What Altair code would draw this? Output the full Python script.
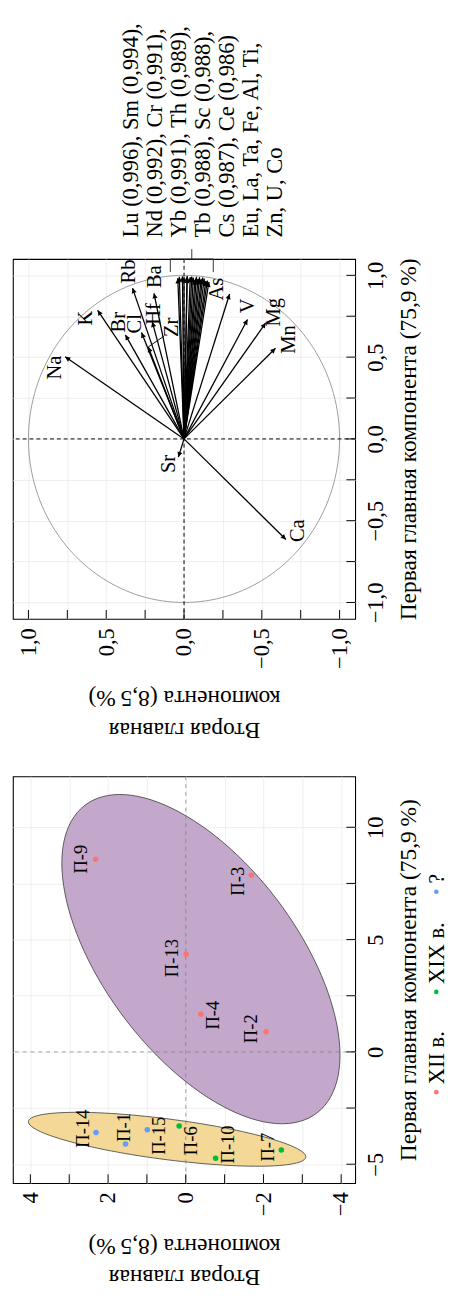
import math
import altair as alt
import pandas as pd

FONT = "Liberation Serif"

# ---------------- loadings (PCA variables) ----------------
elem = ["Na", "K", "Br", "Cl", "Rb", "Hf", "Ba", "Zr", "As", "V", "Mg", "Mn", "Ca", "Sr"]
elem_pc1 = [0.502, 0.786, 0.636, 0.650, 0.922, 0.716, 0.890, 0.562, 0.886, 0.730, 0.709, 0.554, -0.615, -0.111]
elem_pc2 = [0.764, 0.555, 0.377, 0.273, 0.331, 0.204, 0.193, 0.230, -0.293, -0.408, -0.525, -0.588, -0.655, 0.036]

grp_elem = ["Lu", "Sm", "Nd", "Cr", "Yb", "Th", "Tb", "Sc", "Cs", "Ce",
            "Eu", "La", "Ta", "Fe", "Al", "Ti", "Zn", "U", "Co"]
grp_pc1 = [0.996, 0.994, 0.992, 0.991, 0.991, 0.989, 0.988, 0.988, 0.987, 0.986,
           0.984, 0.982, 0.980, 0.978, 0.975, 0.972, 0.968, 0.965, 0.960]
grp_pc2 = [-0.02, 0.01, -0.05, 0.03, -0.08, -0.04, -0.10, 0.00, -0.12, -0.06,
           -0.02, 0.04, -0.13, -0.09, -0.11, -0.07, -0.15, -0.14, -0.16]
n_quoted = 10

# ---------------- scores (samples) ----------------
samples = ["П-9", "П-3", "П-13", "П-4", "П-2", "П-14", "П-1", "П-15", "П-6", "П-10", "П-7"]
score_pc1 = [8.58, 7.86, 4.35, 1.68, 0.90, -3.59, -4.10, -3.47, -3.30, -4.73, -4.37]
score_pc2 = [2.32, -1.69, -0.01, -0.39, -2.07, 2.31, 1.55, 0.99, 0.17, -0.77, -2.46]
century = ["XII в.", "XII в.", "XII в.", "XII в.", "XII в.", "?", "?", "?", "XIX в.", "XIX в.", "XIX в."]
groups = ["XII в.", "XIX в.", "?"]
group_colors = ["#F8766D", "#00BA38", "#619CFF"]

# confidence ellipses: centre (pc2, pc1), spreads and correlation
ell_purple = dict(c2=-0.39, c1=4.13, s2=3.58, s1=7.33, r=0.583)
ell_yellow = dict(c2=0.48, c1=-3.89, s2=3.57, s1=1.20, r=0.65)

# tick values
load_ticks = [-1, -0.75, -0.5, -0.25, 0, 0.25, 0.5, 0.75, 1]
score_ticks_pc1 = [-5, -2.5, 0, 2.5, 5, 7.5, 10]
score_ticks_pc2 = [-4, -3, -2, -1, 0, 1, 2, 3, 4]

X_TITLE = "Первая главная компонента (75,9\u2009%)"
Y_TITLE = ["Вторая главная", "компонента (8,5\u2009%)"]

# ---------------- layout / style ----------------
W, H1, H2 = 350, 368, 416
LD = [-1.1, 1.1]
SD2 = [-4.36, 4.45]
SD1 = [-5.84, 12.27]
SX1, SY1 = W / (LD[1] - LD[0]), H1 / (LD[1] - LD[0])
SX2, SY2 = W / (SD2[1] - SD2[0]), H2 / (SD1[1] - SD1[0])

# label offsets in screen pixels (dx right, dy down)
elem_lab_off = {"Na": (-10, 11), "K": (-12, 8), "Br": (-6, -13), "Cl": (-7, -9), "Rb": (-3, -17),
                "Hf": (2, -8), "Ba": (1, -17), "Zr": (24, -20), "As": (-13, -5), "V": (1, -14),
                "Mg": (9, -11), "Mn": (14, -9), "Ca": (12, -9), "Sr": (-10, 7)}
samp_lab_off = [(-15, 0), (-14, 6), (-14, 4), (13, 1), (-15, -3), (-13, -4),
                (-1, -17), (12, 6), (12, 15), (13, -14), (-14, -3)]


def fmt(v):
    return ("%.3f" % v).replace(".", ",")


pairs = [f"{e} ({fmt(v)})" for e, v in zip(grp_elem[:n_quoted], grp_pc1[:n_quoted])]
list_lines = []
for i in range(0, n_quoted, 2):
    line = ", ".join(pairs[i:i + 2])
    if i + 2 < n_quoted:
        line += ","
    list_lines.append(line)
rest = grp_elem[n_quoted:]
list_lines.append(", ".join(rest[:6]) + ",")
list_lines.append(", ".join(rest[6:]))

# ---------------- data frames ----------------
load_df = pd.DataFrame({"el": elem + grp_elem, "pc1": elem_pc1 + grp_pc1, "pc2": elem_pc2 + grp_pc2})
load_df["o"] = 0.0
load_df["ang"] = [(math.degrees(math.atan2(-b * SX1, a * SY1)) + 360) % 360
                  for a, b in zip(load_df.pc1, load_df.pc2)]

lab_df = pd.DataFrame({
    "el": elem,
    "lx": [p2 - elem_lab_off[e][0] / SX1 for e, p2 in zip(elem, elem_pc2)],
    "ly": [p1 - elem_lab_off[e][1] / SY1 for e, p1 in zip(elem, elem_pc1)],
})
zi = elem.index("Zr")
zr_df = pd.DataFrame({"x": [elem_pc2[zi]], "y": [elem_pc1[zi]],
                      "x2": [elem_pc2[zi] - 16 / SX1], "y2": [elem_pc1[zi] + 11 / SY1]})

b_left = max(grp_pc2) + 0.048
b_right = min(grp_pc2) - 0.028
b_mid = (b_left + b_right) / 2
br_df = pd.DataFrame({"x": [b_left, b_right, b_left, b_mid],
                      "x2": [b_left, b_right, b_right, b_mid],
                      "y": [1.02, 1.02, 1.1, 1.1],
                      "y2": [1.1, 1.1, 1.1, 1.16]})

score_df = pd.DataFrame({"s": samples, "pc1": score_pc1, "pc2": score_pc2, "grp": century})
score_df["lx"] = [p - o[0] / SX2 for p, o in zip(score_pc2, samp_lab_off)]
score_df["ly"] = [p - o[1] / SY2 for p, o in zip(score_pc1, samp_lab_off)]

leg_df = pd.DataFrame({"grp": groups})

# ---------------- scales & axes ----------------
x1 = alt.Scale(domain=LD, reverse=True, nice=False, zero=False)
y1 = alt.Scale(domain=LD, nice=False, zero=False)
x2s = alt.Scale(domain=SD2, reverse=True, nice=False, zero=False)
y2s = alt.Scale(domain=SD1, nice=False, zero=False)

lab1 = "abs(datum.value*2 - round(datum.value*2)) < 1e-6 ? replace(format(datum.value, '.1f'), '.', ',') : ''"
lab_pc1 = "datum.value % 5 == 0 ? format(datum.value, 'd') : ''"
lab_pc2 = "datum.value % 2 == 0 ? format(datum.value, 'd') : ''"


def x_axis(vals, expr):
    return alt.Axis(values=vals, labelExpr=expr, labelAngle=270, labelAlign="right",
                    labelBaseline="middle", labelPadding=9, labelFlush=False, labelOverlap=False,
                    title=Y_TITLE, titleAngle=180, titleBaseline="bottom", titleAlign="center",
                    titlePadding=50, titleLineHeight=32, grid=True)


def y_axis(vals, expr):
    return alt.Axis(orient="right", values=vals, labelExpr=expr, labelAngle=270, labelAlign="center",
                    labelBaseline="top", labelPadding=10, labelFlush=False, labelOverlap=False,
                    title=X_TITLE, titleAngle=270, titleBaseline="top", titleAlign="center",
                    titlePadding=10, grid=True)


def tick_rules(xvals, yvals, xs, ys, h):
    ty = alt.Chart(pd.DataFrame({"v": yvals})).mark_rule(color="black", strokeWidth=1).encode(
        y=alt.Y("v:Q", scale=ys), x=alt.value(W - 9), x2=alt.value(W))
    tx = alt.Chart(pd.DataFrame({"v": xvals})).mark_rule(color="black", strokeWidth=1).encode(
        x=alt.X("v:Q", scale=xs), y=alt.value(h - 9), y2=alt.value(h))
    return [ty, tx]


def zero_lines(xs, ys, color, dash, sw):
    z = pd.DataFrame({"v": [0.0]})
    zv = alt.Chart(z).mark_rule(color=color, strokeDash=dash, strokeWidth=sw).encode(
        x=alt.X("v:Q", scale=xs))
    zh = alt.Chart(z).mark_rule(color=color, strokeDash=dash, strokeWidth=sw).encode(
        y=alt.Y("v:Q", scale=ys))
    return [zv, zh]


# ---------------- loadings panel ----------------
base_axes = alt.Chart(load_df).mark_point(opacity=0).encode(
    x=alt.X("pc2:Q", scale=x1, axis=x_axis(load_ticks, lab1)),
    y=alt.Y("pc1:Q", scale=y1, axis=y_axis(load_ticks, lab1)))

circle = alt.Chart(alt.sequence(0, 362, 2, as_="t")).transform_calculate(
    cx="cos(datum.t*PI/180)", cy="sin(datum.t*PI/180)"
).mark_line(color="#9c9c9c", strokeWidth=1).encode(
    x=alt.X("cx:Q", scale=x1), y=alt.Y("cy:Q", scale=y1), order="t:Q")

shafts = alt.Chart(load_df).mark_rule(color="black", strokeWidth=1.3).encode(
    x=alt.X("o:Q", scale=x1), x2="pc2:Q",
    y=alt.Y("o:Q", scale=y1), y2="pc1:Q")

heads = alt.Chart(load_df).mark_point(shape="M0,0L-0.5,1L0.5,1Z", filled=True, color="black",
                                      opacity=1, size=110).encode(
    x=alt.X("pc2:Q", scale=x1), y=alt.Y("pc1:Q", scale=y1),
    angle=alt.Angle("ang:Q", scale=None))

leader = alt.Chart(zr_df).mark_rule(color="black", strokeWidth=1).encode(
    x=alt.X("x:Q", scale=x1), x2="x2:Q", y=alt.Y("y:Q", scale=y1), y2="y2:Q")

elabels = alt.Chart(lab_df).mark_text(angle=270, fontSize=21, align="center", baseline="middle").encode(
    x=alt.X("lx:Q", scale=x1), y=alt.Y("ly:Q", scale=y1), text="el:N")

bracket = alt.Chart(br_df).mark_rule(color="#333333", strokeWidth=1).encode(
    x=alt.X("x:Q", scale=x1), x2="x2:Q", y=alt.Y("y:Q", scale=y1), y2="y2:Q")

list_text = alt.Chart(pd.DataFrame({"a": [0]})).mark_text(
    angle=270, align="left", baseline="middle", fontSize=23, lineHeight=24.6
).encode(x=alt.value(121), y=alt.value(-22), text=alt.value(list_lines))

loadings = alt.layer(
    base_axes, *tick_rules(load_ticks, load_ticks, x1, y1, H1), circle,
    *zero_lines(x1, y1, "black", [4, 3], 1), shafts, heads, leader, elabels, bracket, list_text
).properties(width=W, height=H1)


# ---------------- scores panel ----------------
def ellipse(p, fill):
    k = math.sqrt(1 - p["r"] ** 2)
    return alt.Chart(alt.sequence(0, 361, 3, as_="t")).transform_calculate(
        ex=f"{p['c2']} + {p['s2']}*cos(datum.t*PI/180)",
        ey=f"{p['c1']} + {p['s1']}*({p['r']}*cos(datum.t*PI/180) + {k}*sin(datum.t*PI/180))"
    ).mark_line(fill=fill, stroke="#3a3a3a", strokeWidth=0.8).encode(
        x=alt.X("ex:Q", scale=x2s), y=alt.Y("ey:Q", scale=y2s), order="t:Q")


score_axes = alt.Chart(score_df).mark_point(opacity=0).encode(
    x=alt.X("pc2:Q", scale=x2s, axis=x_axis(score_ticks_pc2, lab_pc2)),
    y=alt.Y("pc1:Q", scale=y2s, axis=y_axis(score_ticks_pc1, lab_pc1)))

color_scale = alt.Scale(domain=groups, range=group_colors)
pts = alt.Chart(score_df).mark_point(filled=True, opacity=1, size=32).encode(
    x=alt.X("pc2:Q", scale=x2s), y=alt.Y("pc1:Q", scale=y2s),
    color=alt.Color("grp:N", scale=color_scale, legend=None))

slabels = alt.Chart(score_df).mark_text(angle=270, fontSize=19, align="center", baseline="middle").encode(
    x=alt.X("lx:Q", scale=x2s), y=alt.Y("ly:Q", scale=y2s), text="s:N")

score_main = alt.layer(
    score_axes, ellipse(ell_purple, "#C4A8CC"), ellipse(ell_yellow, "#F3D897"),
    *zero_lines(x2s, y2s, "#7a7a7a", [4, 4], 0.7),
    *tick_rules(score_ticks_pc2, score_ticks_pc1, x2s, y2s, H2), pts, slabels)

leg_y = alt.Y("grp:N", scale=alt.Scale(type="point", domain=groups, range=[323, 118], padding=0), axis=None)
leg_dots = alt.Chart(leg_df).mark_point(filled=True, opacity=1, size=22).encode(
    x=alt.value(433), y=leg_y, color=alt.Color("grp:N", scale=color_scale, legend=None))
leg_text = alt.Chart(leg_df).mark_text(angle=270, align="left", baseline="middle", fontSize=23, dx=8).encode(
    x=alt.value(434), y=leg_y, text="grp:N")

scores = alt.layer(score_main, leg_dots, leg_text).resolve_scale(
    y="independent", color="independent").properties(width=W, height=H2)

chart = alt.vconcat(loadings, scores, spacing=161, bounds="flush").properties(
    padding={"left": 3, "top": 0, "right": 0, "bottom": 0}
).configure_view(stroke="black", strokeWidth=1.1).configure_axis(
    labelFont=FONT, titleFont=FONT, labelFontSize=23, titleFontSize=24,
    labelColor="black", titleColor="black", titleFontWeight="normal",
    gridColor="#EBEBEB", gridWidth=0.8, domain=False, ticks=False
).configure_text(font=FONT, color="black")

chart.save("out.html", embed_options={"renderer": "svg", "actions": False})
